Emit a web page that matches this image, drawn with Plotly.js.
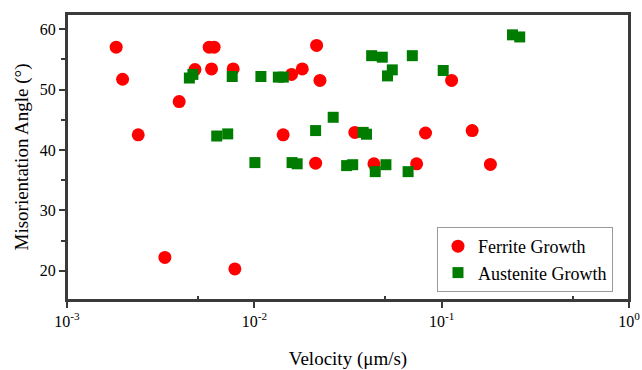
<!DOCTYPE html>
<html>
<head>
<meta charset="utf-8">
<script src="https://cdn.plot.ly/plotly-3.0.1.min.js"></script>
<style>html,body{margin:0;padding:0;background:#fff}#chart{width:642px;height:370px}</style>
</head>
<body>
<div id="chart"></div>
<script>
const ferriteVelocity = [0.00183, 0.00198, 0.0024, 0.00333, 0.00397, 0.00482, 0.00574, 0.0061, 0.00591, 0.00771, 0.00787,
  0.01425, 0.0158, 0.01803, 0.0215, 0.0224, 0.02124, 0.0344, 0.0435, 0.0735, 0.082, 0.113, 0.1455, 0.182];
const ferriteAngle = [57.0, 51.7, 42.5, 22.2, 48.0, 53.3, 57.0, 57.0, 53.4, 53.4, 20.3,
  42.5, 52.5, 53.4, 57.3, 51.5, 37.8, 42.9, 37.7, 37.7, 42.8, 51.5, 43.2, 37.6];

const austeniteVelocity = [0.0045, 0.0047, 0.0063, 0.00721, 0.00762, 0.01007, 0.01084, 0.01343, 0.01428, 0.0159, 0.01693,
  0.02124, 0.02636, 0.0311, 0.0335, 0.0381, 0.0397, 0.0423, 0.0442, 0.0482, 0.0504, 0.0514, 0.0545, 0.0662, 0.0697,
  0.1019, 0.2388, 0.261];
const austeniteAngle = [51.9, 52.5, 42.3, 42.65, 52.15, 37.9, 52.15, 52.05, 52.05, 37.9, 37.7,
  43.2, 45.4, 37.4, 37.55, 42.9, 42.6, 55.6, 36.4, 55.35, 37.55, 52.25, 53.25, 36.4, 55.6,
  53.15, 59.05, 58.7];

const seriesNames = ["Ferrite Growth", "Austenite Growth"];
const xTitle = "Velocity (μm/s)";
const yTitle = "Misorientation Angle (°)";
const xTickVals = [0.001, 0.01, 0.1, 1];
const xTickText = ["10<sup>-3</sup>", "10<sup>-2</sup>", "10<sup>-1</sup>", "10<sup>0</sup>"];

const FONT = "Liberation Serif";
const AX = "#3a3a3a";

const traces = [
  {x: ferriteVelocity, y: ferriteAngle, name: seriesNames[0], type: "scatter", mode: "markers",
   marker: {symbol: "circle", size: 13, color: "#ff0000"}},
  {x: austeniteVelocity, y: austeniteAngle, name: seriesNames[1], type: "scatter", mode: "markers",
   marker: {symbol: "square", size: 11, color: "#007d00"}}
];

const layout = {
  width: 642, height: 370,
  margin: {l: 67, r: 13, t: 14, b: 70},
  paper_bgcolor: "#fff", plot_bgcolor: "#fff",
  font: {family: FONT, size: 15, color: "#000"},
  showlegend: true,
  legend: {x: 0.9715, y: 0.028, xanchor: "right", yanchor: "bottom",
    bordercolor: "#9a9a9a", borderwidth: 1, bgcolor: "#fff",
    font: {family: FONT, size: 18, color: "#000"}},
  shapes: [
    {type: "rect", xref: "paper", yref: "paper", x0: 0, x1: 1, y0: 0, y1: 1,
     line: {color: AX, width: 2}, fillcolor: "rgba(0,0,0,0)", layer: "above"}
  ],
  xaxis: {
    type: "log", range: [-3, 0], showgrid: false, zeroline: false,
    showline: true, linecolor: AX, linewidth: 2, mirror: true,
    ticks: "outside", ticklen: 6, tickwidth: 2, tickcolor: AX,
    tickvals: xTickVals, ticktext: xTickText,
    tickfont: {family: FONT, size: 16, color: "#000"},
    minor: {tick0: 0.69897, dtick: 1, ticks: "inside", ticklen: 4, tickwidth: 2, tickcolor: AX, showgrid: false},
    title: {text: xTitle, font: {family: FONT, size: 19, color: "#000"}}
  },
  yaxis: {
    range: [15.15, 62.5], showgrid: false, zeroline: false,
    showline: true, linecolor: AX, linewidth: 2, mirror: true,
    ticks: "outside", ticklen: 6, tickwidth: 2, tickcolor: AX,
    dtick: 10, tick0: 0,
    tickfont: {family: FONT, size: 16, color: "#000"},
    minor: {tick0: 0, dtick: 5, ticks: "outside", ticklen: 4, tickwidth: 2, tickcolor: AX, showgrid: false},
    title: {text: yTitle, font: {family: FONT, size: 19, color: "#000"}, standoff: 6}
  }
};

Plotly.newPlot("chart", traces, layout, {displayModeBar: false});
</script>
</body>
</html>
